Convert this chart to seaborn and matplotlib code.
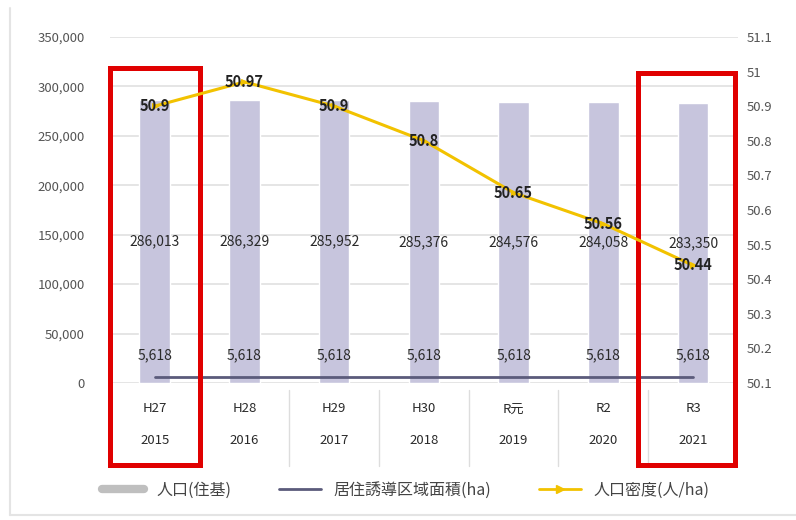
import matplotlib
matplotlib.use("Agg")
import matplotlib.pyplot as plt
from matplotlib.lines import Line2D
from matplotlib.patches import Rectangle
import matplotlib.transforms as mtransforms
import numpy as np
import pandas as pd
import seaborn as sns

# 年度ラベル
era_labels = ["H27", "H28", "H29", "H30", "R元", "R2", "R3"]
year_labels = ["2015", "2016", "2017", "2018", "2019", "2020", "2021"]

# 人口(住基)
population = [286013, 286329, 285952, 285376, 284576, 284058, 283350]
# 居住誘導区域面積(ha)
area_ha = [5618, 5618, 5618, 5618, 5618, 5618, 5618]
# 人口密度(人/ha)
density = [50.9, 50.97, 50.9, 50.8, 50.65, 50.56, 50.44]

legend_names = ["人口(住基)", "居住誘導区域面積(ha)", "人口密度(人/ha)"]

sns.set_theme(style="white")
plt.rcParams["font.family"] = ["Noto Sans CJK JP", "DejaVu Sans"]

bar_color = "#c7c5dd"
area_color = "#5b5b7b"
dens_color = "#f2c200"
text_color = "#2a2a2a"

df = pd.DataFrame({"label": era_labels, "pop": population})

fig = plt.figure(figsize=(7.96, 5.2), dpi=100)
ax = fig.add_axes([0.138, 0.2635, 0.789, 0.6655])

sns.barplot(data=df, x="label", y="pop", ax=ax, color=bar_color,
            width=0.34, saturation=1, zorder=2)
x = np.arange(len(era_labels))
sns.lineplot(x=x, y=area_ha, ax=ax, color=area_color, linewidth=2, zorder=3)

ax.set_ylim(0, 350000)
ax.set_xlim(-0.5, len(era_labels) - 0.5)
ax.set_yticks(np.arange(0, 350001, 50000))
ax.set_yticklabels([f"{v:,}" for v in range(0, 350001, 50000)],
                   fontsize=9.5, color="#555555")
ax.yaxis.grid(True, color="#e0e0e0", linewidth=1.2, zorder=0)
ax.set_axisbelow(True)
ax.set_xlabel("")
ax.set_ylabel("")
ax.set_xticks(x)
ax.set_xticklabels([f"{e}\n{y}" for e, y in zip(era_labels, year_labels)],
                   fontsize=9.5, color=text_color, linespacing=2.9)
ax.tick_params(axis="x", length=0, pad=14)
ax.tick_params(axis="y", length=0, pad=18)
for s in ax.spines.values():
    s.set_visible(False)

# 人口・面積の値ラベル
for i, (p, a) in enumerate(zip(population, area_ha)):
    ax.text(i, p / 2, f"{p:,}", ha="center", va="center", fontsize=10,
            color=text_color, zorder=5)
    ax.text(i, a + 22000, f"{a:,}", ha="center", va="center", fontsize=10,
            color=text_color, zorder=5)

# 人口密度(右軸)
ax2 = ax.twinx()
sns.lineplot(x=x, y=density, ax=ax2, color=dens_color, linewidth=2.2,
             marker=">", markersize=5, markeredgecolor=dens_color, zorder=4)
ax2.set_ylim(50.1, 51.1)
ax2.set_yticks(np.round(np.arange(50.1, 51.11, 0.1), 1))
ax2.set_yticklabels([f"{v:g}" for v in np.round(np.arange(50.1, 51.11, 0.1), 1)],
                    fontsize=9.5, color="#555555")
ax2.tick_params(axis="y", length=0, pad=6)
ax2.set_ylabel("")
for s in ax2.spines.values():
    s.set_visible(False)
for i, d in enumerate(density):
    ax2.text(i, d, f"{d:g}", ha="center", va="center", fontsize=10.5,
             fontweight="bold", color="#222222", zorder=6)

# 年度欄の区切り線
trans = mtransforms.blended_transform_factory(ax.transData, ax.transAxes)
for i in range(len(era_labels) - 1):
    ax.add_line(Line2D([i + 0.5, i + 0.5], [-0.02, -0.24], transform=trans,
                       color="#dddddd", linewidth=1, clip_on=False))

# 強調枠
for x0, x1, top in [(-0.5, 0.5, 0.910), (5.39, 6.47, 0.896)]:
    ax.add_patch(Rectangle((x0, -0.237), x1 - x0, top + 0.237, transform=trans,
                           fill=False, edgecolor="#e00000", linewidth=3.6,
                           clip_on=False, zorder=10))

# 外枠
fig.add_artist(Line2D([0.013, 0.013], [0.01, 0.985], transform=fig.transFigure,
                      color="#e4e4e4", linewidth=1.5))
fig.add_artist(Line2D([0.013, 1.0], [0.01, 0.01], transform=fig.transFigure,
                      color="#e4e4e4", linewidth=1.5))

handles = [
    Line2D([], [], color="#bfbfbf", linewidth=6),
    Line2D([], [], color=area_color, linewidth=2),
    Line2D([], [], color=dens_color, linewidth=2, marker=">", markersize=6),
]
fig.legend(handles, legend_names, loc="center", bbox_to_anchor=(0.51, 0.058),
           ncol=3, frameon=False, fontsize=11.5, handlelength=2.6,
           columnspacing=3.0, labelcolor="#444444")

fig.savefig("out.png", dpi=100)
